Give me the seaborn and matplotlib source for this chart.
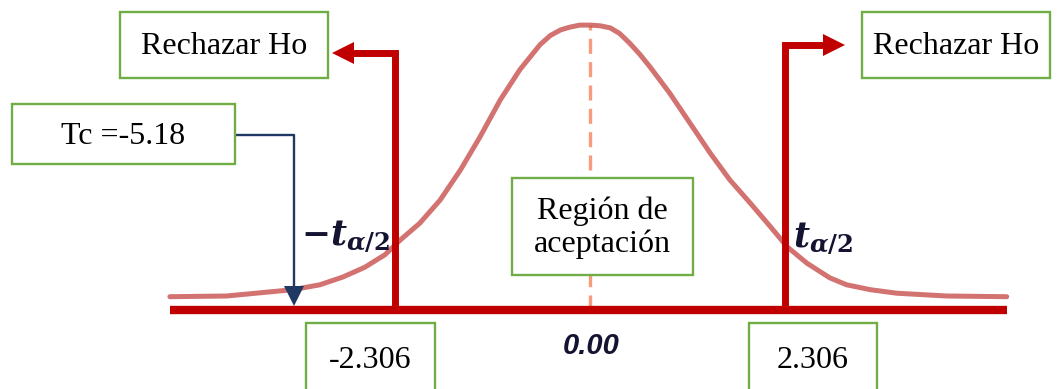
import matplotlib
matplotlib.use('Agg')
import matplotlib.pyplot as plt
import seaborn as sns
import pandas as pd
from matplotlib.patches import Rectangle

# curva t
curve_t = [-4.96, -4.29, -3.51, -3.19, -2.92, -2.66, -2.42, -2.24, -2.01, -1.77, -1.53, -1.30,
           -1.06, -0.83, -0.59, -0.47, -0.35, -0.24, -0.12, 0.00, 0.12, 0.24, 0.35, 0.47, 0.59,
           0.71, 0.94, 1.18, 1.42, 1.65, 1.89, 2.13, 2.33, 2.56, 2.83, 3.03, 3.31, 3.62, 4.21, 4.92]
curve_y = [0.019, 0.020, 0.029, 0.036, 0.047, 0.061, 0.079, 0.100, 0.124, 0.157, 0.200, 0.247,
           0.300, 0.343, 0.379, 0.392, 0.400, 0.404, 0.407, 0.407, 0.406, 0.403, 0.395, 0.381, 0.365,
           0.347, 0.310, 0.267, 0.224, 0.186, 0.153, 0.119, 0.090, 0.067, 0.046, 0.036, 0.029,
           0.024, 0.020, 0.019]
t_crit = [-2.306, 2.306]
t_center = 0.00
tc_value = -5.18
crit_labels = ['-2.306', '2.306']
center_label = '0.00'
reject_label = 'Rechazar Ho'
accept_label = 'Región de\naceptación'
tc_label = 'Tc =' + str(tc_value)

W, H = 1062, 389
RED = '#C00000'
GREEN = '#70AD47'
NAVY = '#1F3864'

sns.set_style('white')
plt.rcParams['mathtext.fontset'] = 'custom'
plt.rcParams['mathtext.it'] = 'DejaVu Serif:italic:bold'
plt.rcParams['mathtext.rm'] = 'DejaVu Serif:bold'
plt.rcParams['mathtext.bf'] = 'DejaVu Serif:bold'

fig = plt.figure(figsize=(W / 100, H / 100), dpi=100)
ax = fig.add_axes([0, 0, 1, 1])
# eje: centro en px 590, 84.7 px por unidad t; base en px 310, 700 px por unidad y
ax.set_xlim(-590 / 84.7, (W - 590) / 84.7)
ax.set_ylim(-(H - 310) / 700, 310 / 700)
ax.axis('off')


def fx(x):
    return (x - 590) / 84.7


def fy(y):
    return (310 - y) / 700


def fig_xy(x, y):
    return x / W, 1 - y / H


def caja(x0, y0, x1, y1):
    fig.add_artist(Rectangle((x0 / W, 1 - y1 / H), (x1 - x0) / W, (y1 - y0) / H,
                             transform=fig.transFigure, facecolor='white',
                             edgecolor=GREEN, lw=1.7, zorder=5))


def texto(x, y, s, **kw):
    fig.text(*fig_xy(x, y), s, ha='center', va='center', family='Liberation Serif',
             fontsize=23, color='black', zorder=6, **kw)


# linea base
ax.plot([curve_t[0], curve_t[-1]], [0, 0], color=RED, lw=6, solid_capstyle='butt', zorder=3)

# linea central punteada
ax.plot([t_center, t_center], [0, max(curve_y)], color='#F79B7B', lw=2.4,
        linestyle=(0, (4.5, 2.5)), zorder=2)

# curva
df = pd.DataFrame({'t': curve_t, 'y': curve_y})
sns.lineplot(data=df, x='t', y='y', ax=ax, color='#C8504D', alpha=0.8, lw=3.6,
             sort=False, solid_joinstyle='round', zorder=2)

# lineas de valores criticos con flecha
tops = [fy(53), fy(45)]
heads = [(fx(343), '<'), (fx(834), '>')]
for tc, top, (hx, mk) in zip(t_crit, tops, heads):
    ax.plot([tc, tc, hx], [0, top, top], color=RED, lw=5, solid_joinstyle='miter',
            solid_capstyle='butt', zorder=4)
    ax.plot([hx], [top], marker=mk, markersize=16, color=RED, markeredgewidth=0, zorder=4)

# flecha del Tc
ax.plot([fx(235), fx(294), fx(294)], [fy(135), fy(135), fy(292)], color=NAVY, lw=1.7, zorder=4)
ax.plot([fx(294)], [fy(296)], marker='v', markersize=15, color=NAVY, markeredgewidth=0, zorder=4)

# cajas
caja(120, 12, 328, 78)
texto(224, 47, reject_label)
caja(862, 12, 1050, 78)
texto(956, 47, reject_label)
caja(12, 104, 235, 164)
texto(123, 136, tc_label)
caja(512, 178, 693, 275)
texto(602, 228, accept_label, linespacing=1.15)
caja(306, 323, 435, 400)
texto(370, 360, crit_labels[0])
caja(749, 323, 877, 400)
texto(813, 360, crit_labels[1])

# etiquetas t
fig.text(*fig_xy(301, 236), r'$-t_{\alpha/2}$', ha='left', va='center', fontsize=25,
         color='#141432', zorder=6)
fig.text(*fig_xy(793, 238), r'$t_{\alpha/2}$', ha='left', va='center', fontsize=25,
         color='#141432', zorder=6)
fig.text(*fig_xy(591, 346), center_label, ha='center', va='center', family='Liberation Sans',
         fontsize=21, fontweight='bold', fontstyle='italic', color='#141432', zorder=6)

plt.savefig('out.png', dpi=100)
